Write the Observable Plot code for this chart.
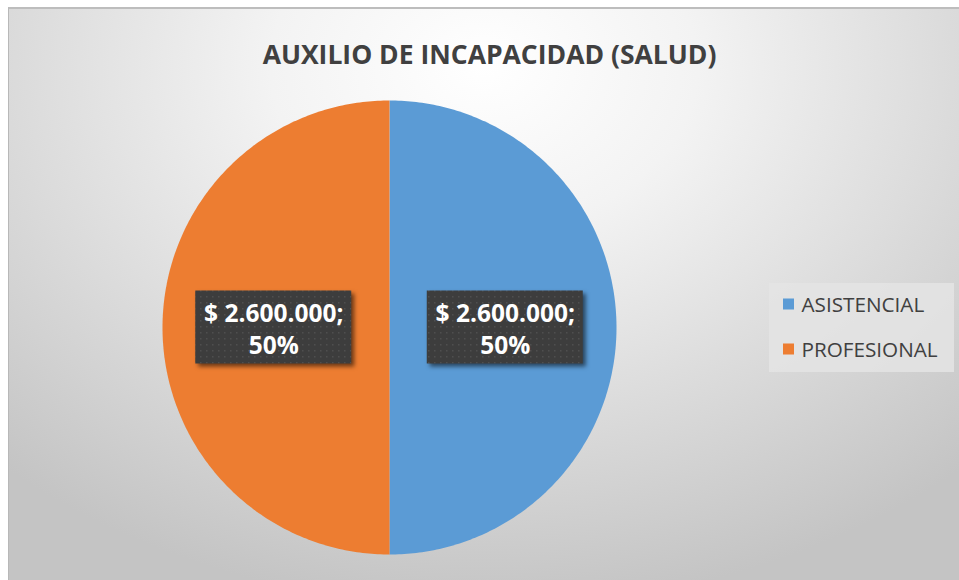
<!DOCTYPE html>
<html>
<head>
<meta charset="utf-8">
<script src="https://cdn.jsdelivr.net/npm/d3@7"></script>
<script src="https://cdn.jsdelivr.net/npm/@observablehq/plot@0.6"></script>
<style>
  body { margin: 0; background: #fff; }
  #wrap { position: relative; width: 959px; height: 580px; overflow: hidden; background: #fff; }
  #bg { position: absolute; left: 8px; top: 7px; right: 0; bottom: 0;
        border-left: 1px solid #b8b8b8; border-top: 2px solid #bdbdbd;
        background: radial-gradient(ellipse 75% 95% at 50% 10%, #ffffff 0%, #f3f3f3 30%, #c4c4c4 100%); }
  #chart { position: absolute; left: 0; top: 0; }
</style>
</head>
<body>
<div id="wrap"><div id="bg"></div><div id="chart"></div></div>
<script>
// ---- data ----
const title = "AUXILIO DE INCAPACIDAD (SALUD)";
const categories = ["ASISTENCIAL", "PROFESIONAL"];
const values = [2600000, 2600000];
const colors = ["#5B9BD5", "#ED7D31"];

// ---- layout ----
const W = 959, H = 580;
const cx = 389, cy = 327, R = 227;
const labelRadius = 0.51;
const boxW = 156, boxH = 73;

const locale = d3.formatLocale({decimal: ",", thousands: ".", grouping: [3], currency: ["$ ", ""]});
const fmtMoney = locale.format("$,.0f");
const total = d3.sum(values);

const arcs = d3.pie().sort(null)(values);

// slice outlines (polygon points along each arc)
const slicePts = [];
arcs.forEach((a, i) => {
  slicePts.push({cat: categories[i], x: 0, y: 0});
  const n = 240;
  for (let k = 0; k <= n; k++) {
    const t = a.startAngle + (a.endAngle - a.startAngle) * k / n;
    slicePts.push({cat: categories[i], x: Math.sin(t), y: -Math.cos(t)});
  }
});

const labels = arcs.map((a, i) => {
  const m = (a.startAngle + a.endAngle) / 2;
  return {
    cat: categories[i],
    x: labelRadius * Math.sin(m),
    y: -labelRadius * Math.cos(m),
    text: `${fmtMoney(values[i])};\n${Math.round(values[i] / total * 100)}%`
  };
});

const px = v => cx + v * R;
const py = v => cy + v * R;

const legendItems = categories.map((c, i) => ({cat: c, i}));
const legX = 769, legY = 283, legW2 = 954, legH2 = 372;
const legRowY = i => 304.5 + i * 45;

const plot = Plot.plot({
  width: W, height: H, margin: 0,
  style: {background: "transparent", overflow: "visible"},
  x: {domain: [0, W], range: [0, W], axis: null},
  y: {domain: [0, H], range: [0, H], axis: null},
  color: {domain: categories, range: colors},
  marks: [
    Plot.line(slicePts, {x: d => px(d.x), y: d => py(d.y), z: "cat", fill: "cat", stroke: "none", curve: "linear-closed"}),
    Plot.rect(labels, {x1: d => px(d.x) - boxW / 2, x2: d => px(d.x) + boxW / 2,
                       y1: d => py(d.y) - boxH / 2, y2: d => py(d.y) + boxH / 2, fill: "url(#dots)"}),
    Plot.text(labels, {x: d => px(d.x), y: d => py(d.y) + 0.5, text: "text", fill: "white",
                       fontFamily: "Open Sans", fontWeight: "bold", fontSize: 24.5, lineHeight: 1.31}),
    Plot.text([title], {x: 489, y: 55, text: d => d, fill: "#404040",
                       fontFamily: "Open Sans", fontWeight: "bold", fontSize: 26.5}),
    Plot.rect([0], {x1: legX, x2: legW2, y1: legY, y2: legH2, fill: "#e4e4e4", fillOpacity: 0.85}),
    Plot.rect(legendItems, {x1: 783, x2: 794, y1: d => legRowY(d.i) - 6, y2: d => legRowY(d.i) + 5, fill: "cat"}),
    Plot.text(legendItems, {x: 801, y: d => legRowY(d.i), text: "cat", fill: "#404040", textAnchor: "start",
                       fontFamily: "Open Sans", fontSize: 20.7})
  ]
});

// pattern for label boxes + drop shadow
const svg = d3.select(plot);
svg.insert("defs", ":first-child").html(
  `<pattern id="dots" width="6" height="6" patternUnits="userSpaceOnUse">
     <rect width="6" height="6" fill="#3d3d3d"/>
     <rect x="2" y="2" width="1.5" height="1.5" fill="#4f4f4f"/>
   </pattern>`);
const rectGroups = svg.selectAll("g[aria-label='rect']").nodes();
if (rectGroups[0]) rectGroups[0].style.filter = "drop-shadow(3px 3px 2px rgba(0,0,0,0.55))";

document.getElementById("chart").appendChild(plot);
</script>
</body>
</html>
